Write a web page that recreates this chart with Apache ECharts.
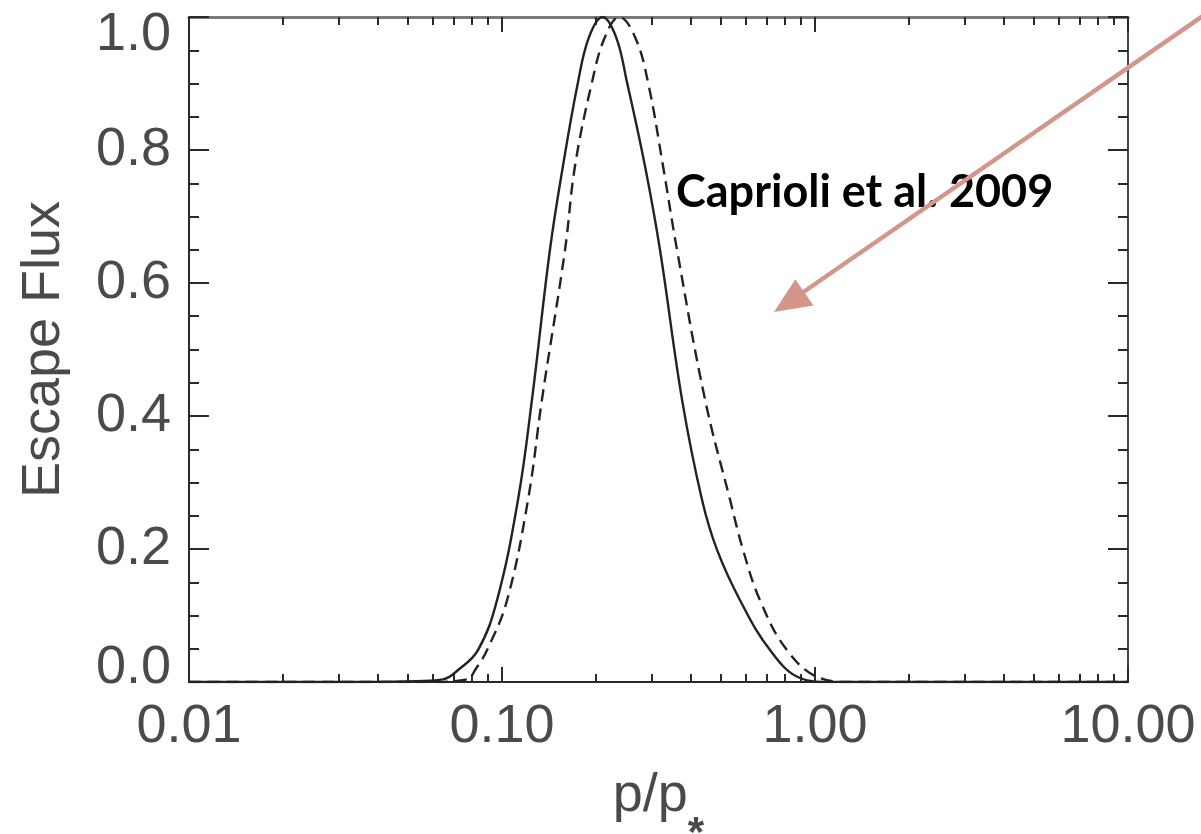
<!DOCTYPE html>
<html>
<head>
<meta charset="utf-8">
<script src="https://cdn.jsdelivr.net/npm/echarts@6/dist/echarts.min.js"></script>
<style>html,body{margin:0;padding:0;background:#fff;}#c{width:1201px;height:834px;}</style>
</head>
<body>
<div id="c"></div>
<script>
// ---- data ----
const solidX = [0.01, 0.03, 0.05, 0.0648, 0.0724, 0.0838, 0.0964, 0.1125, 0.1247, 0.1423, 0.1566, 0.1749, 0.1898, 0.2095, 0.2313, 0.2508, 0.2863, 0.3197, 0.3759, 0.4355, 0.4862, 0.5761, 0.7183, 0.8954, 1.1, 3, 10];
const solidY = [0, 0, 0.001, 0.004, 0.018, 0.048, 0.123, 0.274, 0.425, 0.65, 0.776, 0.902, 0.97, 1.0, 0.97, 0.902, 0.776, 0.65, 0.425, 0.274, 0.199, 0.123, 0.048, 0.006, 0, 0, 0];
const dashX = [0.01, 0.03, 0.06, 0.0773, 0.0825, 0.0896, 0.1038, 0.1211, 0.1342, 0.159, 0.1711, 0.1939, 0.2133, 0.237, 0.266, 0.2927, 0.3269, 0.3623, 0.4452, 0.5353, 0.5888, 0.6672, 0.8138, 1.0375, 1.3, 3, 10];
const dashY = [0, 0, 0, 0.004, 0.02, 0.048, 0.123, 0.274, 0.425, 0.65, 0.776, 0.902, 0.97, 1.0, 0.97, 0.902, 0.776, 0.65, 0.425, 0.274, 0.199, 0.123, 0.048, 0.006, 0, 0, 0];
const xMajorTicks = [0.01, 0.1, 1, 10];
const xMinorTicks = [0.02,0.03,0.04,0.05,0.06,0.07,0.08,0.09,0.2,0.3,0.4,0.5,0.6,0.7,0.8,0.9,2,3,4,5,6,7,8,9];
const xTickLabels = ['0.01', '0.10', '1.00', '10.00'];
const yTickLabels = ['0.0', '0.2', '0.4', '0.6', '0.8', '1.0'];
const xName = 'p/p';
const xNameSub = '*';
const yName = 'Escape Flux';
const note = 'Caprioli et al. 2009';

const TXT = '#4a4a4a';
const FONT = 'Liberation Sans';
const AX = '#2a2a2a';

function pairs(xs, ys) { return xs.map((x, i) => [x, ys[i]]); }

function xAxisDef(pos, ticks, len, showLabel, lineColor, lineWidth) {
  return {
    type: 'log', logBase: 10, min: 0.01, max: 10, position: pos,
    gridIndex: 0,
    axisLine: { show: true, lineStyle: { color: lineColor, width: lineWidth } },
    axisTick: { show: true, inside: true, length: len, customValues: ticks, lineStyle: { color: AX, width: 2 } },
    axisLabel: showLabel ? {
      show: true, customValues: xMajorTicks, margin: 18,
      color: TXT, fontFamily: FONT, fontSize: 54,
      formatter: v => { const i = xMajorTicks.findIndex(t => Math.abs(t - v) / t < 1e-6); return i >= 0 ? xTickLabels[i] : ''; }
    } : { show: false },
    splitLine: { show: false }, minorTick: { show: false }, minorSplitLine: { show: false }
  };
}

function yAxisDef(pos, showLabel, lineColor) {
  return {
    type: 'value', min: 0, max: 1, interval: 0.2, position: pos,
    axisLine: { show: true, lineStyle: { color: lineColor, width: 2 } },
    axisTick: { show: true, inside: true, length: 20, lineStyle: { color: AX, width: 2 } },
    minorTick: { show: true, splitNumber: 4, length: 10, lineStyle: { color: AX, width: 2 } },
    splitLine: { show: false },
    axisLabel: showLabel ? {
      show: true, margin: 18, color: TXT, fontFamily: FONT, fontSize: 54,
      formatter: v => {
        const s = yTickLabels[Math.round(v / 0.2)];
        if (Math.abs(v - 1) < 1e-9) return '{t|' + s + '}';
        if (Math.abs(v) < 1e-9) return '{b|' + s + '}';
        return s;
      },
      rich: {
        t: { fontFamily: FONT, fontSize: 54, color: TXT, padding: [36, 0, 0, 0] },
        b: { fontFamily: FONT, fontSize: 54, color: TXT, padding: [0, 0, 28, 0] }
      }
    } : { show: false },
    name: showLabel ? yName : '',
    nameLocation: 'middle', nameRotate: 90, nameGap: 118,
    nameTextStyle: { color: TXT, fontFamily: FONT, fontSize: 54 }
  };
}

const chart = echarts.init(document.getElementById('c'), null, { renderer: 'canvas' });

const xMain = xAxisDef('bottom', xMajorTicks, 15, true, AX, 2);
xMain.name = '{a|' + xName + '}{s|' + xNameSub + '}';
xMain.nameLocation = 'middle';
xMain.nameGap = 87;
xMain.nameTextStyle = {
  rich: {
    a: { color: TXT, fontFamily: FONT, fontSize: 54, lineHeight: 64, verticalAlign: 'top' },
    s: { color: TXT, fontFamily: FONT, fontSize: 42, fontWeight: 'bold', lineHeight: 20, padding: [44, 0, 0, 0], verticalAlign: 'top' }
  }
};

const option = {
  backgroundColor: '#ffffff',
  animation: false,
  grid: { left: 189, right: 73, top: 17, bottom: 152, containLabel: false, outerBoundsMode: 'none' },
  xAxis: [
    xMain,
    xAxisDef('bottom', xMinorTicks, 8, false, AX, 2),
    xAxisDef('top', xMajorTicks, 15, false, '#7a7a7a', 3),
    xAxisDef('top', xMinorTicks, 8, false, '#7a7a7a', 3)
  ],
  yAxis: [
    yAxisDef('left', true, AX),
    yAxisDef('right', false, '#444')
  ],
  series: [
    {
      type: 'line', xAxisIndex: 0, yAxisIndex: 0,
      data: pairs(solidX, solidY),
      showSymbol: false, smooth: 0.4,
      lineStyle: { color: '#222', width: 2.4, type: 'solid' },
      z: 3
    },
    {
      type: 'line', xAxisIndex: 0, yAxisIndex: 0,
      data: pairs(dashX, dashY),
      showSymbol: false, smooth: 0.4,
      lineStyle: { color: '#222', width: 2.4, type: [12, 7] },
      z: 3
    }
  ],
  graphic: [
    {
      type: 'text', left: 676, top: 170, z: 10,
      style: { text: note, font: 'bold 45px Lato', fill: '#000' }
    },
    {
      type: 'line', z: 11,
      shape: { x1: 1226, y1: 0, x2: 802, y2: 293 },
      style: { stroke: '#d4968a', lineWidth: 4.5 }
    },
    {
      type: 'polygon', z: 11,
      shape: { points: [[774, 312], [813.5, 305.6], [795.3, 279.3]] },
      style: { fill: '#d4968a' }
    }
  ]
};
chart.setOption(option);
</script>
</body>
</html>
